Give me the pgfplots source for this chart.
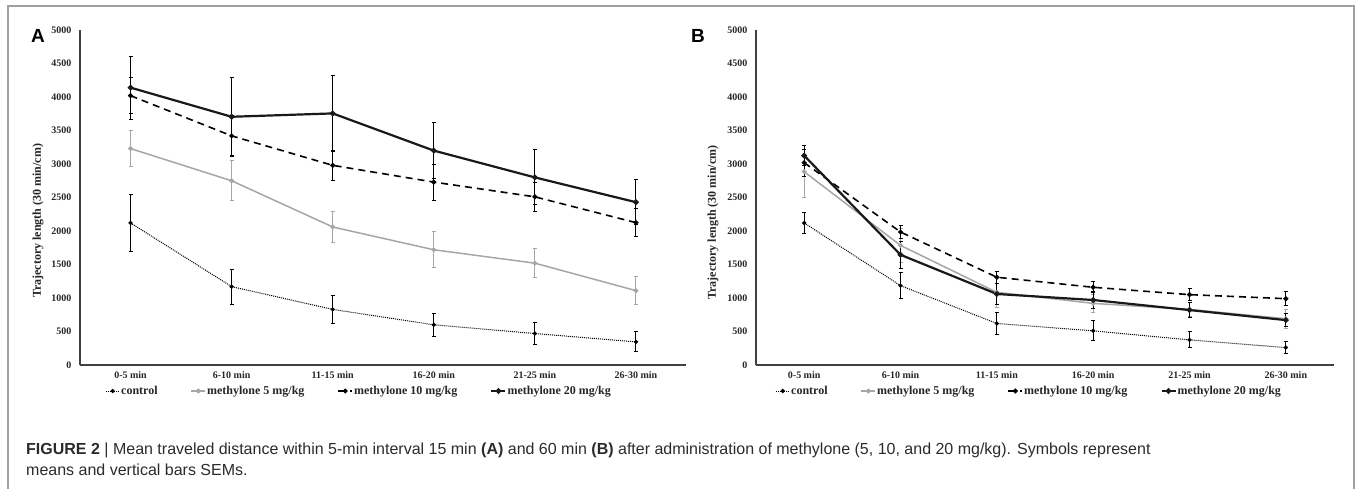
\documentclass[border=0pt]{standalone}
\usepackage{fontspec}
\setmainfont{Liberation Serif}
\newfontfamily\capfont{Liberation Sans}
\usepackage{pgfplots}
\pgfplotsset{compat=1.18}
\definecolor{lgray}{HTML}{A6A6A6}
\definecolor{axgray}{HTML}{404040}
\definecolor{capcol}{HTML}{2B2B2B}
\definecolor{framecol}{HTML}{A0A0A0}
\pgfplotsset{
  panel/.style={
    scale only axis, anchor=south west, height=335pt,
    xmin=0, xmax=6, ymin=0, ymax=5000,
    axis x line*=bottom, axis y line*=left,
    axis line style={axgray, line width=1.4pt, -},
    major tick length=0pt,
    xtick={0.5,1.5,2.5,3.5,4.5,5.5},
    xticklabels={0-5 min,6-10 min,11-15 min,16-20 min,21-25 min,26-30 min},
    ytick={0,500,...,5000},
    /pgf/number format/assume math mode=true,
    /pgf/number format/1000 sep={},
    ticklabel style={font=\bfseries\fontsize{10}{12}\selectfont, text=black!85},
    xticklabel style={yshift=-3pt},
    yticklabel style={xshift=-5pt},
    ylabel={Trajectory length (30 min/cm)},
    ylabel style={font=\bfseries\fontsize{12}{14}\selectfont, text=black!85},
    legend columns=4,
    legend cell align=left,
    legend style={draw=none, fill=none, inner sep=0pt, anchor=west,
      font=\bfseries\fontsize{12}{14}\selectfont, text=black!85,
      nodes={inner sep=1pt},
      /tikz/every even column/.append style={column sep=32pt}},
    legend image code/.code={\draw[mark repeat=2,mark phase=2,#1] plot coordinates {(0pt,0pt) (7pt,0pt) (14pt,0pt)};},
    error bars/y dir=both, error bars/y explicit,
  },
  ctrl/.style={black, line width=1pt, densely dotted, mark=*, mark size=1.6pt, mark options={solid},
    error bars/error bar style={line width=1pt, solid, black},
    error bars/error mark options={rotate=90, mark size=2pt, line width=1pt, solid, black}},
  mfive/.style={lgray, line width=1.5pt, mark=*, mark size=1.6pt, mark options={solid},
    error bars/error bar style={line width=1pt, solid, lgray},
    error bars/error mark options={rotate=90, mark size=2pt, line width=1pt, solid, lgray}},
  mten/.style={black, line width=1.6pt, dash pattern=on 7pt off 5pt, mark=*, mark size=1.6pt, mark options={solid},
    error bars/error bar style={line width=1pt, solid, black},
    error bars/error mark options={rotate=90, mark size=2pt, line width=1pt, solid, black}},
  mtwenty/.style={black!90, line width=2.2pt, mark=*, mark size=1.6pt, mark options={solid},
    error bars/error bar style={line width=1pt, solid, black},
    error bars/error mark options={rotate=90, mark size=2pt, line width=1pt, solid, black}},
}
\begin{document}
\begin{tikzpicture}
\path[use as bounding box] (0pt,0pt) rectangle (1357pt,-488pt);
\draw[framecol, line width=1.6pt] (8pt,-500pt) -- (8pt,-6pt) -- (1354pt,-6pt) -- (1354pt,-500pt);

% Panel A
\begin{axis}[panel, at={(80pt,-365pt)}, width=606.5pt,
  ylabel style={at={(axis description cs:-0.0693,0.43)}, anchor=center},
  legend style={at={(axis description cs:0.0412,-0.0776)}}]
\addplot[ctrl] coordinates {(0.5,2120) +- (0,420) (1.5,1170) +- (0,260) (2.5,830) +- (0,210) (3.5,600) +- (0,170) (4.5,470) +- (0,165) (5.5,345) +- (0,150)};
\addplot[mfive] coordinates {(0.5,3230) +- (0,265) (1.5,2750) +- (0,300) (2.5,2060) +- (0,235) (3.5,1720) +- (0,270) (4.5,1520) +- (0,220) (5.5,1110) +- (0,210)};
\addplot[mten] coordinates {(0.5,4020) +- (0,270) (1.5,3420) +- (0,300) (2.5,2980) +- (0,220) (3.5,2730) +- (0,270) (4.5,2510) +- (0,215) (5.5,2125) +- (0,210)};
\addplot[mtwenty] coordinates {(0.5,4140) +- (0,470) (1.5,3705) +- (0,590) (2.5,3755) +- (0,565) (3.5,3200) +- (0,420) (4.5,2800) +- (0,410) (5.5,2430) +- (0,340)};
\legend{control,methylone 5 mg/kg,methylone 10 mg/kg,methylone 20 mg/kg}
\end{axis}

% Panel B
\begin{axis}[panel, at={(756pt,-365pt)}, width=578pt,
  ylabel style={at={(axis description cs:-0.0744,0.425)}, anchor=center},
  legend style={at={(axis description cs:0.0329,-0.0776)}}]
\addplot[ctrl] coordinates {(0.5,2120) +- (0,150) (1.5,1185) +- (0,190) (2.5,620) +- (0,165) (3.5,510) +- (0,150) (4.5,375) +- (0,120) (5.5,260) +- (0,90)};
\addplot[mfive] coordinates {(0.5,2885) +- (0,390) (1.5,1785) +- (0,250) (2.5,1085) +- (0,220) (3.5,920) +- (0,130) (4.5,830) +- (0,110) (5.5,690) +- (0,140)};
\addplot[mten] coordinates {(0.5,3020) +- (0,200) (1.5,1985) +- (0,100) (2.5,1310) +- (0,90) (3.5,1160) +- (0,80) (4.5,1050) +- (0,90) (5.5,990) +- (0,100)};
\addplot[mtwenty] coordinates {(0.5,3125) +- (0,150) (1.5,1645) +- (0,200) (2.5,1060) +- (0,150) (3.5,970) +- (0,120) (4.5,820) +- (0,110) (5.5,670) +- (0,100)};
\legend{control,methylone 5 mg/kg,methylone 10 mg/kg,methylone 20 mg/kg}
\end{axis}

\node[anchor=base west, inner sep=0pt, font=\capfont\bfseries\fontsize{19}{22}\selectfont] at (31pt,-42pt) {A};
\node[anchor=base west, inner sep=0pt, font=\capfont\bfseries\fontsize{19}{22}\selectfont] at (691pt,-42pt) {B};

\node[anchor=base west, inner sep=0pt, text=capcol, font=\capfont\fontsize{16}{19}\selectfont] at (26pt,-454pt) {\textbf{FIGURE 2} | Mean traveled distance within 5-min interval 15 min \textbf{(A)} and 60 min \textbf{(B)} after administration of methylone (5, 10, and 20 mg/kg). Symbols represent};
\node[anchor=base west, inner sep=0pt, text=capcol, font=\capfont\fontsize{16}{19}\selectfont] at (26pt,-475pt) {means and vertical bars SEMs.};
\end{tikzpicture}
\end{document}
